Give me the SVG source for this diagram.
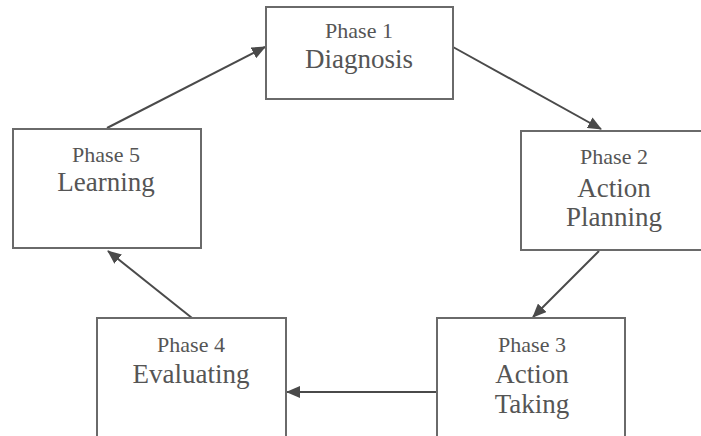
<svg xmlns="http://www.w3.org/2000/svg" width="701" height="436" viewBox="0 0 701 436">
<style>
.box{fill:#fff;stroke:#6a6a6a;stroke-width:2}
.ph{font-family:"Liberation Serif","Times New Roman",serif;font-size:22px;fill:#555;text-anchor:middle}
.lb{font-family:"Liberation Serif","Times New Roman",serif;font-size:27px;fill:#555;text-anchor:middle}
.edge{stroke:#4a4a4a;stroke-width:2;fill:none;marker-end:url(#ah)}
</style>
<defs>
<marker id="ah" viewBox="0 0 14 12" refX="13" refY="6" markerWidth="14" markerHeight="12" markerUnits="userSpaceOnUse" orient="auto">
<path d="M0,0 L14,6 L0,12 Z" fill="#4a4a4a"/>
</marker>
</defs>
<rect width="701" height="436" fill="#fff"/>
<g id="connectors">
<line class="edge" x1="107" y1="128" x2="265" y2="47"/>
<line class="edge" x1="453" y1="47" x2="601" y2="129"/>
<line class="edge" x1="599" y1="251" x2="533" y2="317"/>
<line class="edge" x1="437" y1="392" x2="287" y2="392"/>
<line class="edge" x1="192" y1="318" x2="108" y2="251"/>
</g>
<g id="phase1">
<rect class="box" x="266" y="7" width="187" height="92"/>
<text class="ph" x="359" y="38">Phase 1</text>
<text class="lb" x="359" y="68">Diagnosis</text>
</g>
<g id="phase2">
<rect class="box" x="521" y="131" width="190" height="119"/>
<text class="ph" x="614" y="164">Phase 2</text>
<text class="lb" x="614" y="197">Action</text>
<text class="lb" x="614" y="226">Planning</text>
</g>
<g id="phase3">
<rect class="box" x="437" y="318" width="188" height="130"/>
<text class="ph" x="532" y="352">Phase 3</text>
<text class="lb" x="532" y="383">Action</text>
<text class="lb" x="532" y="413">Taking</text>
</g>
<g id="phase4">
<rect class="box" x="97" y="318" width="189" height="130"/>
<text class="ph" x="191" y="352">Phase 4</text>
<text class="lb" x="191" y="383">Evaluating</text>
</g>
<g id="phase5">
<rect class="box" x="13" y="129" width="188" height="119"/>
<text class="ph" x="106" y="162">Phase 5</text>
<text class="lb" x="106" y="191">Learning</text>
</g>
</svg>
